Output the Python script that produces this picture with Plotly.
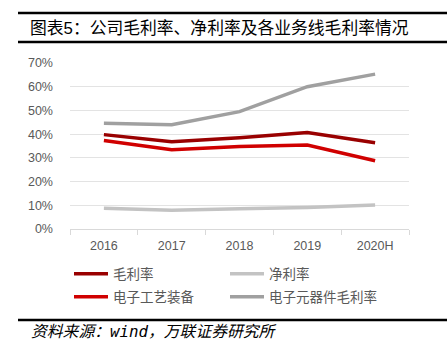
import plotly.graph_objects as go

years = ["2016", "2017", "2018", "2019", "2020H"]
gross_margin = [0.398, 0.368, 0.385, 0.407, 0.364]
net_margin = [0.087, 0.079, 0.085, 0.091, 0.101]
equip_margin = [0.373, 0.334, 0.348, 0.354, 0.288]
component_margin = [0.446, 0.440, 0.495, 0.600, 0.653]
y_ticks = [0, 0.1, 0.2, 0.3, 0.4, 0.5, 0.6, 0.7]
y_tick_text = ["0%", "10%", "20%", "30%", "40%", "50%", "60%", "70%"]

W, H = 447, 350
L, R, T, B = 70, 409, 63, 229
pw, ph = R - L, B - T

def px(x):
    return (x - L) / pw

def py(y):
    return (B - y) / ph

font_cjk = "Liberation Sans, Noto Sans CJK SC, sans-serif"
fig = go.Figure()
series = [
    ("毛利率", gross_margin, "#990000", "legend"),
    ("净利率", net_margin, "#C3C3C3", "legend"),
    ("电子工艺装备", equip_margin, "#D00000", "legend2"),
    ("电子元器件毛利率", component_margin, "#A0A0A0", "legend2"),
]
for name, vals, color, lg in series:
    fig.add_trace(go.Scatter(x=years, y=vals, name=name, mode="lines",
                             line=dict(color=color, width=3.5), legend=lg))

leg_common = dict(orientation="h", font=dict(size=13.5, color="#595959", family=font_cjk),
                  entrywidth=107, entrywidthmode="pixels", xanchor="left", yanchor="middle",
                  bgcolor="rgba(0,0,0,0)", itemwidth=34, tracegroupgap=0)
fig.update_layout(
    width=W, height=H,
    margin=dict(l=L, r=W - R, t=T, b=H - B),
    paper_bgcolor="white", plot_bgcolor="white",
    font=dict(family=font_cjk, color="#595959", size=12),
    showlegend=True,
    legend=dict(x=px(69), y=py(274), **leg_common),
    legend2=dict(x=px(69), y=py(297), **leg_common),
    xaxis=dict(showgrid=False, showline=True, linecolor="#D9D9D9", linewidth=1,
               range=[-0.5, 4.5],
               ticks="outside", tickson="boundaries", ticklen=5, tickcolor="#D9D9D9",
               ticklabelstandoff=5,
               tickfont=dict(size=12.5, color="#595959"), fixedrange=True),
    yaxis=dict(range=[0, 0.7], tickvals=y_ticks, ticktext=y_tick_text,
               showgrid=True, gridcolor="#E3E3E3", gridwidth=1, zeroline=False,
               showline=False, ticks="", ticklabelstandoff=16,
               tickfont=dict(size=12.5, color="#595959"), fixedrange=True),
)

fig.add_shape(type="line", xref="paper", yref="paper", x0=px(18), x1=px(447),
              y0=py(13), y1=py(13), line=dict(color="black", width=2.5))
fig.add_shape(type="line", xref="paper", yref="paper", x0=px(18), x1=px(447),
              y0=py(42), y1=py(42), line=dict(color="black", width=2.5))
fig.add_shape(type="line", xref="paper", yref="paper", x0=px(18), x1=px(447),
              y0=py(320), y1=py(320), line=dict(color="black", width=2.5))
fig.add_annotation(xref="paper", yref="paper", x=px(28), y=py(28), xanchor="left",
                   yanchor="middle", showarrow=False,
                   text="图表5：公司毛利率、净利率及各业务线毛利率情况",
                   font=dict(size=16.8, color="#000000", family=font_cjk))
fig.add_annotation(xref="paper", yref="paper", x=px(29), y=py(331), xanchor="left",
                   yanchor="middle", showarrow=False,
                   text="<i>资料来源：wind，万联证券研究所</i>",
                   font=dict(size=15.8, color="#000000", family="DejaVu Sans Mono, Noto Sans CJK SC, monospace"))

fig.write_html("out.html")
